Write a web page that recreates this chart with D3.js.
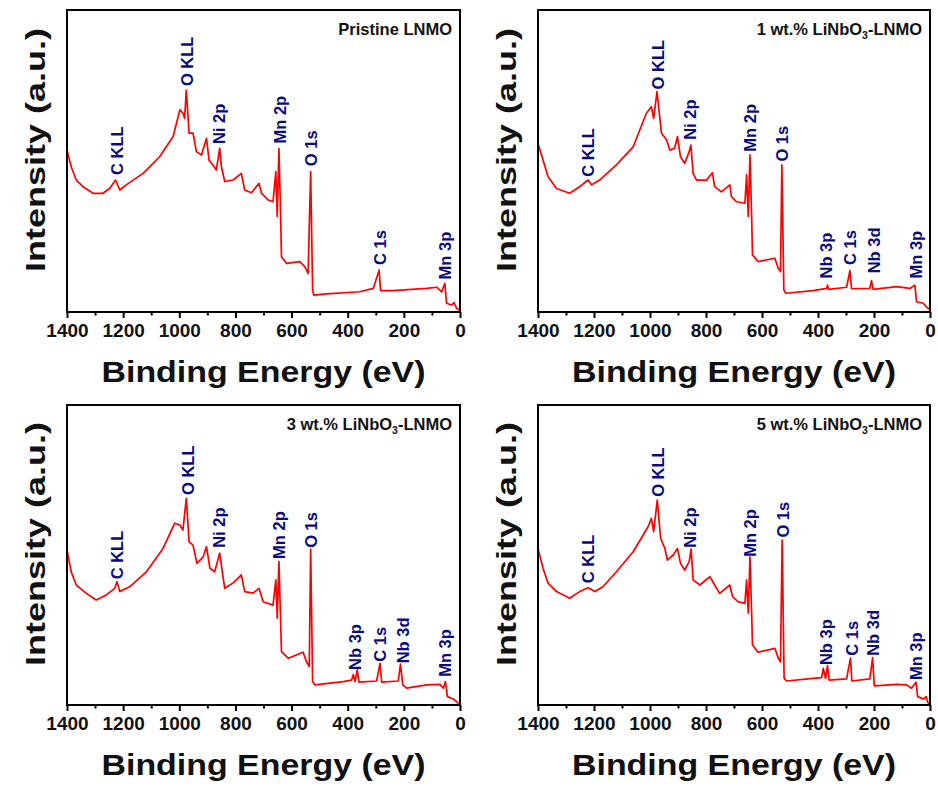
<!DOCTYPE html>
<html><head><meta charset="utf-8">
<script src="https://cdn.jsdelivr.net/npm/d3@7/dist/d3.min.js"></script>
<style>
body{margin:0;background:#fff}
svg{display:block}
text{font-family:"Liberation Sans",Arial,Helvetica,sans-serif;font-weight:bold}
</style>
</head><body>
<svg id="chart" width="938" height="791"></svg>
<script>
// ---------- data ----------
const xTickValues = [1400,1300,1200,1100,1000,900,800,700,600,500,400,300,200,100,0];
const xTitle = "Binding Energy (eV)";
const yTitle = "Intensity (a.u.)";

const sampleTitles = [
  ["Pristine LNMO"],
  ["1 wt.% LiNbO","3","-LNMO"],
  ["3 wt.% LiNbO","3","-LNMO"],
  ["5 wt.% LiNbO","3","-LNMO"]
];

// Pristine LNMO
const bePristine = [1400,1385,1367,1343,1307,1272,1248,1227,1212,1189,1129,1070,1022,998,986,981,975,965,951,939,921,903,894,880,868,856,850,838,808,779,767,743,716,707,683,666,656,651,645,639,636,618,571,553,541,532,525,521,475,357,309,288,283,238,119,83,65,54,48,30,21,12,2];
const intPristine = [53.6,48.1,43.7,41.5,39.3,39.3,40.9,43.7,40.4,42.1,45.9,51.4,58.1,66.9,65.8,64.1,73.5,59.2,59.2,53.1,52.0,57.5,50.3,48.7,47.0,54.2,48.1,43.2,43.7,45.9,40.4,39.5,42.6,39.3,37.1,36.5,46.5,31.6,54.2,31.6,18.3,16.1,16.7,15.0,12.8,46.5,7.3,5.6,6.0,6.7,7.8,13.9,7.1,7.1,7.8,8.2,6.7,9.5,2.9,2.3,3.1,1.2,0.7];

// 1 wt.% LiNbO3-LNMO
const be1wt = [1400,1382,1364,1334,1287,1251,1221,1209,1180,1120,1060,1013,995,987,975,959,941,929,912,902,891,876,860,854,846,834,798,777,769,745,715,709,691,661,655,649,643,637,634,614,554,542,534,529,522,515,417,369,366,362,298,286,280,215,209,203,119,72,54,48,24,14,2];
const int1wt = [55.8,50.3,44.8,40.9,39.3,41.5,43.7,42.1,43.7,48.7,54.7,65.8,68.0,64.1,73.0,59.2,57.0,53.6,54.2,58.1,51.4,49.2,53.1,55.3,45.9,43.7,43.7,46.1,41.5,39.8,42.1,38.2,36.5,36.0,45.4,31.6,52.0,31.6,18.9,16.7,17.8,14.5,13.4,48.7,7.3,6.2,7.1,7.8,8.9,7.5,8.2,13.7,7.7,7.8,10.4,7.5,8.4,7.8,8.9,3.4,2.9,1.8,0.9];

// 3 wt.% LiNbO3-LNMO
const be3wt = [1400,1385,1367,1331,1296,1260,1230,1222,1212,1177,1117,1058,1016,998,987,975,965,951,937,915,903,891,874,856,846,838,808,779,767,737,716,701,666,656,651,645,639,636,612,559,547,537,532,525,517,416,386,380,374,366,360,297,285,279,220,212,204,190,119,72,59,52,45,24,12,2];
const int3wt = [51.7,44.4,40.0,37.2,35.0,36.7,38.9,41.1,37.8,39.4,44.4,52.2,60.6,60.0,58.3,68.9,54.4,53.3,47.2,49.4,52.8,45.6,44.4,50.6,43.9,38.9,40.7,43.4,37.8,37.3,38.9,34.4,33.3,41.7,28.9,47.8,27.8,17.8,15.6,17.6,14.4,12.8,52.0,7.8,6.7,7.8,8.3,10.2,7.8,11.7,7.6,8.0,13.9,7.6,8.0,13.6,6.7,5.6,6.7,6.9,5.6,7.8,2.8,2.0,1.1,0.2];

// 5 wt.% LiNbO3-LNMO
const be5wt = [1400,1382,1364,1334,1287,1251,1221,1197,1168,1120,1060,1007,995,987,974,962,947,938,917,902,891,876,860,853,846,822,786,769,751,715,705,685,661,655,649,643,637,634,614,554,542,534,528,521,512,417,387,381,373,366,360,298,284,279,215,205,199,119,83,66,50,44,24,14,8,2];
const int5wt = [52.2,45.6,40.6,37.8,35.6,37.8,39.1,37.8,39.4,44.4,51.1,59.4,62.2,57.8,68.3,55.6,52.2,48.3,50.0,52.2,47.2,45.0,47.8,52.0,41.7,40.0,42.8,40.0,37.2,40.0,36.1,34.4,33.9,41.7,30.6,49.4,30.6,20.0,17.6,18.9,15.6,14.4,55.0,8.9,8.0,8.9,9.1,12.2,8.9,13.1,8.3,8.7,15.6,8.0,8.7,15.8,6.4,6.9,6.7,5.6,7.6,2.8,2.0,2.8,0.9,0.2];

// peak annotations (label, binding energy, intensity at label foot)
const peakLabelsPristine = ["C KLL","O KLL","Ni 2p","Mn 2p","O 1s","C 1s","Mn 3p"];
const peakBEPristine = [1222,971,858,642,529,285,54];
const peakIntPristine = [45.4,74.8,55.6,55.8,48.3,15.6,10.8];

const peakLabelsDoped = ["C KLL","O KLL","Ni 2p","Mn 2p","O 1s","Nb 3p","C 1s","Nb 3d","Mn 3p"];
const peakBE1wt = [1221,971,858,643,528,373,284,200,51];
const peakInt1wt = [44.8,73.7,57.0,53.1,49.8,11.1,15.6,12.8,11.1];
const peakBE3wt = [1222,969,858,644,529,374,285,202,54];
const peakInt3wt = [41.9,70.0,52.4,48.7,52.4,11.7,14.4,13.9,9.4];
const peakBE5wt = [1221,971,856,643,524,372,280,203,50];
const peakInt5wt = [40.6,69.4,52.4,49.4,55.8,13.3,16.4,16.4,8.3];

// ---------- layout ----------
const panels = [
  {x0:67,  x1:460, y0:10,  y1:312, be:bePristine, it:intPristine, lab:peakLabelsPristine, lbe:peakBEPristine, lit:peakIntPristine, title:sampleTitles[0]},
  {x0:538, x1:930, y0:10,  y1:312, be:be1wt, it:int1wt, lab:peakLabelsDoped, lbe:peakBE1wt, lit:peakInt1wt, title:sampleTitles[1]},
  {x0:67,  x1:460, y0:405, y1:705, be:be3wt, it:int3wt, lab:peakLabelsDoped, lbe:peakBE3wt, lit:peakInt3wt, title:sampleTitles[2]},
  {x0:538, x1:930, y0:405, y1:705, be:be5wt, it:int5wt, lab:peakLabelsDoped, lbe:peakBE5wt, lit:peakInt5wt, title:sampleTitles[3]}
];

const svg = d3.select("#chart");
svg.append("rect").attr("width",938).attr("height",791).attr("fill","#fff");

panels.forEach(p => {
  const g = svg.append("g");
  const x = d3.scaleLinear().domain([1400,0]).range([p.x0,p.x1]);
  const y = d3.scaleLinear().domain([0,100]).range([p.y1,p.y0]);

  // spectrum
  const pts = p.be.map((b,i)=>[b,p.it[i]]);
  g.append("path").datum(pts)
    .attr("fill","none").attr("stroke","#ff0000").attr("stroke-width",1.7)
    .attr("stroke-linejoin","round")
    .attr("d", d3.line().x(d=>x(d[0])).y(d=>y(d[1])));

  // bottom axis
  const ax = g.append("g").attr("transform",`translate(0,${p.y1})`)
    .call(d3.axisBottom(x).tickValues(xTickValues).tickSizeOuter(0).tickSize(6).tickPadding(6)
      .tickFormat(d => d % 200 === 0 ? d : ""));
  ax.select(".domain").remove();
  ax.selectAll(".tick line").attr("stroke","#000").attr("stroke-width",2)
    .attr("y2", d => d % 200 === 0 ? 6 : 3.5);
  ax.selectAll(".tick text").attr("font-size",19).attr("font-weight","bold")
    .attr("fill","#111").attr("font-family",'"Liberation Sans",Arial,sans-serif');

  // frame
  g.append("rect").attr("x",p.x0).attr("y",p.y0)
    .attr("width",p.x1-p.x0).attr("height",p.y1-p.y0)
    .attr("fill","none").attr("stroke","#000").attr("stroke-width",2);

  // peak labels
  p.lab.forEach((t,i)=>{
    const px = x(p.lbe[i]), py = y(p.lit[i]);
    g.append("text").attr("transform",`translate(${px},${py}) rotate(-90)`)
      .attr("dy","0.36em").attr("font-size",16.5).attr("fill","#0a0a7e")
      .attr("text-anchor","start").text(t);
  });

  // sample title
  const tt = g.append("text").attr("x",p.x1-8).attr("y",p.y0+25)
    .attr("text-anchor","end").attr("font-size",16.5).attr("fill","#111");
  p.title.forEach((s,i)=>{
    const ts = tt.append("tspan").text(s);
    if (i===1) ts.attr("font-size",10.5).attr("dy",4);
    if (i===2) ts.attr("dy",-4);
  });

  // axis titles
  const cx = (p.x0+p.x1)/2;
  g.append("text").attr("x",cx).attr("y",p.y1+70).attr("text-anchor","middle")
    .attr("font-size",29).attr("fill","#111")
    .attr("textLength",324).attr("lengthAdjust","spacingAndGlyphs").text(xTitle);
  const cy = (p.y0+p.y1)/2 - 11;
  g.append("text").attr("transform",`translate(${p.x0-32},${cy}) rotate(-90)`)
    .attr("text-anchor","middle").attr("dy","0.36em")
    .attr("font-size",28).attr("fill","#111")
    .attr("textLength",244).attr("lengthAdjust","spacingAndGlyphs").text(yTitle);
});
</script>
</body></html>
